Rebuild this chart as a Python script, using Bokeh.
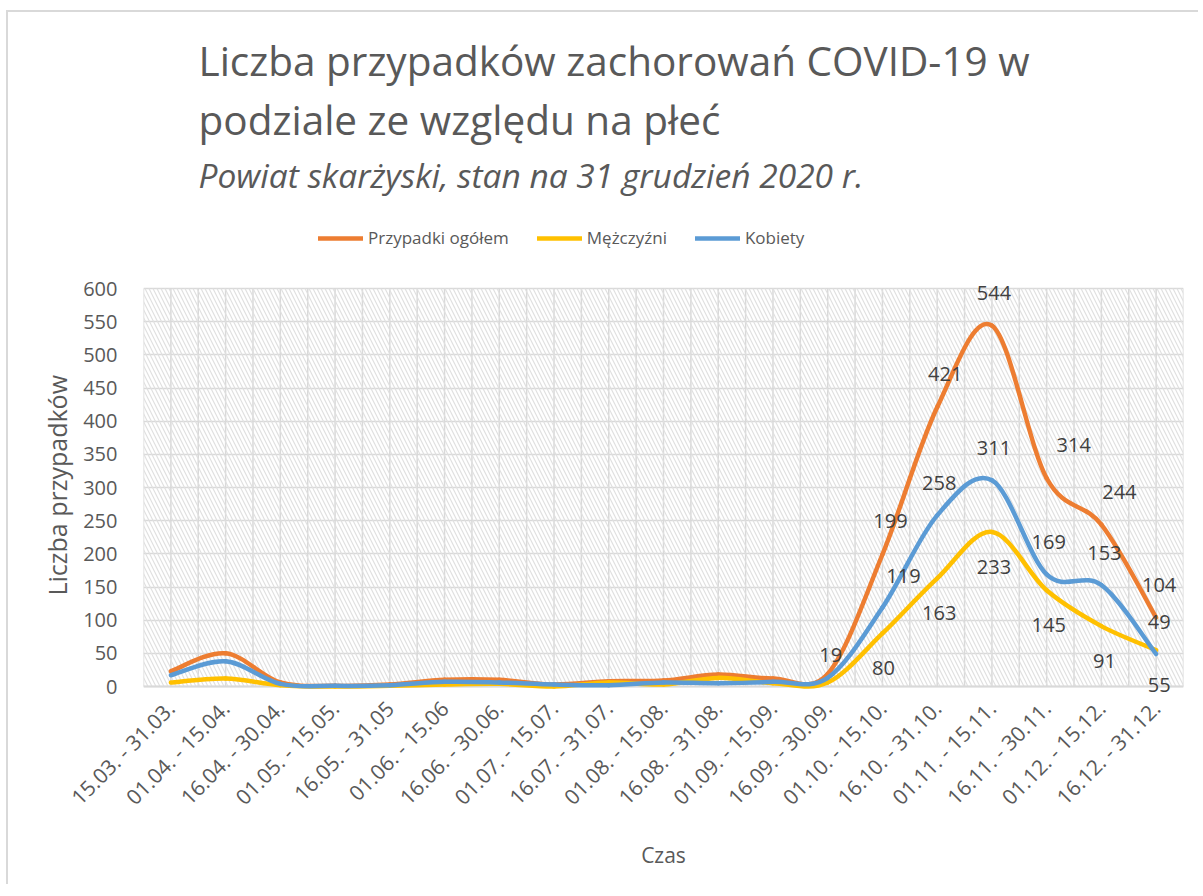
import numpy as np
from bokeh.plotting import figure
from bokeh.models import (ColumnDataSource, FixedTicker, Title, Legend, LegendItem,
                          BoxAnnotation, Range1d, Span)
from bokeh.core.properties import value
from bokeh.embed import file_html
from bokeh.resources import INLINE

# ---------------- data ----------------
periods = ["15.03. - 31.03.", "01.04. - 15.04.", "16.04. - 30.04.", "01.05. - 15.05.",
           "16.05. - 31.05", "01.06. - 15.06", "16.06. - 30.06.", "01.07. - 15.07.",
           "16.07. - 31.07.", "01.08. - 15.08.", "16.08. - 31.08.", "01.09. - 15.09.",
           "16.09. - 30.09.", "01.10. - 15.10.", "16.10. - 31.10.", "01.11. - 15.11.",
           "16.11. - 30.11.", "01.12. - 15.12.", "16.12. - 31.12."]
total = [23, 50, 6, 1, 3, 10, 10, 3, 8, 9, 18, 12, 19, 199, 421, 544, 314, 244, 104]
men = [6, 12, 2, 0, 1, 3, 4, 0, 6, 3, 13, 5, 6, 80, 163, 233, 145, 91, 55]
women = [17, 38, 4, 1, 2, 7, 6, 3, 2, 6, 5, 7, 13, 119, 258, 311, 169, 153, 49]
series_names = ["Przypadki ogółem", "Mężczyźni", "Kobiety"]
y_ticks = list(range(0, 601, 50))

title_line1 = "Liczba przypadków zachorowań COVID-19 w"
title_line2 = "podziale ze względu na płeć"
subtitle = "Powiat skarżyski, stan na 31 grudzień 2020 r."
y_label = "Liczba przypadków"
x_label = "Czas"

# which points carry a data label (first labelled index per series)
label_from = {"total": 12, "men": 13, "women": 13}

# ---------------- styling / layout ----------------
C_TOTAL, C_MEN, C_WOMEN = "#ED7D31", "#FFC000", "#5B9BD5"
TXT = "#595959"
FONT = "Open Sans"

OX, OY = 8, 12                          # canvas origin on the page (after chart-area border)
W, H = 1200 - OX, 886 - OY
FRAME_LEFT, FRAME_RIGHT = 143 - OX, 1183 - OX
AXIS_TOP, AXIS_ZERO = 288 - OY, 686 - OY    # pixel rows of value 600 / value 0
FRAME_TOP, FRAME_BOTTOM = 200 - OY, 698 - OY
y_max = y_ticks[-1]
px_per_unit = (AXIS_ZERO - AXIS_TOP) / y_max
y_end = (AXIS_ZERO - FRAME_TOP) / px_per_unit
y_start = -(FRAME_BOTTOM - AXIS_ZERO) / px_per_unit

p = figure(width=W, height=H, output_backend="svg", toolbar_location=None,
           x_range=Range1d(-0.5, len(periods) - 0.5), y_range=Range1d(y_start, y_end),
           min_border_left=FRAME_LEFT, min_border_right=W - FRAME_RIGHT,
           min_border_top=FRAME_TOP, min_border_bottom=H - FRAME_BOTTOM,
           styles={"margin-left": "6px", "margin-top": "10px",
                   "border-left": "2px solid #d9d9d9", "border-top": "2px solid #d9d9d9"})
p.outline_line_color = None
p.background_fill_color = "white"
p.border_fill_color = "white"

# hatched plot area (value axis region only)
p.add_layout(BoxAnnotation(bottom=0, top=y_max, fill_alpha=0, line_alpha=0,
                           hatch_pattern="\\", hatch_color="#e0e0e0", hatch_scale=8,
                           hatch_weight=1.2, level="underlay"))

# grids: horizontal major every 50; vertical at category centres and boundaries
p.ygrid.ticker = FixedTicker(ticks=y_ticks)
p.ygrid.grid_line_color = "#d9d9d9"
p.ygrid.grid_line_width = 1.5
p.xgrid.visible = False
gx = list(np.arange(-0.5, len(periods), 0.5))
p.segment(x0=gx, y0=[0] * len(gx), x1=gx, y1=[y_max] * len(gx),
          line_color="#d9d9d9", line_width=1.5, level="underlay")
# category axis line at value 0
p.add_layout(Span(location=0, dimension="width", line_color="#d9d9d9", line_width=2,
                  level="underlay"))

# axes
p.xaxis.ticker = FixedTicker(ticks=list(range(len(periods))))
p.xaxis.major_label_overrides = {i: s for i, s in enumerate(periods)}
p.xaxis.major_label_orientation = np.pi / 4
p.xaxis.axis_line_color = None
p.xaxis.major_tick_line_color = None
p.xaxis.minor_tick_line_color = None
p.xaxis.major_label_standoff = 0
p.xaxis.axis_label = x_label
p.xaxis.axis_label_standoff = 18

p.yaxis.ticker = FixedTicker(ticks=y_ticks)
p.yaxis.axis_line_color = None
p.yaxis.major_tick_line_color = None
p.yaxis.minor_tick_line_color = None
p.yaxis.major_label_standoff = 20

for ax in (p.xaxis[0], p.yaxis[0]):
    ax.major_label_text_font = FONT
    ax.major_label_text_font_size = "20px"
    ax.major_label_text_color = TXT
    ax.axis_label_text_font = FONT
    ax.axis_label_text_font_size = "21px"
    ax.axis_label_text_font_style = "normal"
    ax.axis_label_text_color = TXT
p.xaxis.major_label_text_font_size = "21px"

# y axis title (as a left-side title so it stays centred on the value axis)
p.add_layout(Title(text=y_label, text_font=FONT, text_font_size="25px",
                   text_font_style="normal", text_color=TXT, align="left",
                   offset=91 + (FRAME_BOTTOM - AXIS_ZERO), standoff=14), "left")


# smoothed lines (Bezier segments through the data points)
def bezier_source(vals):
    pts = np.asarray(vals, dtype=float)
    xs = np.arange(len(pts), dtype=float)
    n = len(pts)
    d = dict(x0=[], y0=[], x1=[], y1=[], cx0=[], cy0=[], cx1=[], cy1=[])
    for i in range(n - 1):
        a, b = max(i - 1, 0), min(i + 2, n - 1)
        d["x0"].append(xs[i]); d["y0"].append(pts[i])
        d["x1"].append(xs[i + 1]); d["y1"].append(pts[i + 1])
        d["cx0"].append(xs[i] + (xs[i + 1] - xs[a]) / 6)
        d["cy0"].append(pts[i] + (pts[i + 1] - pts[a]) / 6)
        d["cx1"].append(xs[i + 1] - (xs[b] - xs[i]) / 6)
        d["cy1"].append(pts[i + 1] - (pts[b] - pts[i]) / 6)
    return ColumnDataSource(d)


renderers = []
for vals, col in ((total, C_TOTAL), (men, C_MEN), (women, C_WOMEN)):
    r = p.bezier(x0="x0", y0="y0", x1="x1", y1="y1", cx0="cx0", cy0="cy0",
                 cx1="cx1", cy1="cy1", source=bezier_source(vals),
                 line_color=col, line_width=4.5, line_cap="round")
    renderers.append(r)


# data labels (pixel nudges are placement only)
def add_labels(vals, start, dx, dy):
    idx = list(range(start, len(vals)))
    src = ColumnDataSource(dict(x=idx, y=[vals[i] for i in idx],
                                t=[str(vals[i]) for i in idx], dx=dx, dy=dy))
    p.text(x="x", y="y", text="t", source=src, x_offset="dx", y_offset="dy",
           text_font=value(FONT), text_font_size="20px", text_color="#404040",
           text_align="center", text_baseline="middle")


add_labels(total, label_from["total"], dx=[3, 8, 8, 2, 27, 18, 3],
           dy=[-19, -33, -33, -33, -33, -33, -33])
add_labels(women, label_from["women"], dx=[21, 2, 2, 2, 3, 3], dy=[-32] * 6)
add_labels(men, label_from["men"], dx=[1, 2, 2, 2, 3, 3], dy=[35] * 6)

# legend (inside the upper, axis-free band of the frame)
legend = Legend(items=[LegendItem(label=n, renderers=[r]) for n, r in zip(series_names, renderers)],
                orientation="horizontal",
                location=(318 - 143, (FRAME_BOTTOM + OY) - 237 - 12),
                glyph_width=45, glyph_height=20, label_standoff=5, spacing=28,
                padding=0, margin=0,
                label_text_font=FONT, label_text_font_size="17px", label_text_color=TXT,
                border_line_color=None, background_fill_alpha=0)
p.add_layout(legend, "center")

# titles (added from the plot outward)
p.add_layout(Title(text=subtitle, text_font=FONT, text_font_size="33.5px",
                   text_font_style="italic", text_color=TXT, align="left",
                   offset=55, standoff=6), "above")
p.add_layout(Title(text=title_line2, text_font=FONT, text_font_size="40.5px",
                   text_font_style="normal", text_color=TXT, align="left",
                   offset=55, standoff=0), "above")
p.add_layout(Title(text=title_line1, text_font=FONT, text_font_size="40.5px",
                   text_font_style="normal", text_color=TXT, align="left",
                   offset=55, standoff=4), "above")

open("out.html", "w").write(file_html(p, INLINE))
